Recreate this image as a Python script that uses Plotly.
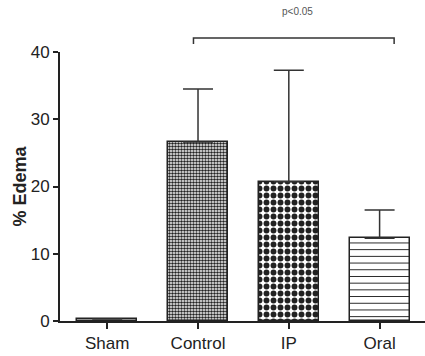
import plotly.graph_objects as go

categories = ["Sham", "Control", "IP", "Oral"]
values = [0.3, 26.6, 20.7, 12.3]
errors_up = [0.0, 7.9, 16.6, 4.2]
patterns = ["", ".", ".", "-"]
pattern_sizes = [6, 3, 7, 6.7]
pattern_solidity = [0.3, 0.55, 0.55, 0.15]

x_idx = list(range(len(categories)))

fig = go.Figure()
fig.add_trace(go.Bar(
    x=x_idx, y=values, width=0.66,
    marker=dict(
        color="white",
        line=dict(color="#222", width=1.5),
        pattern=dict(shape=patterns, size=pattern_sizes, solidity=pattern_solidity,
                     fgcolor="#222", bgcolor="white", fillmode="replace"),
    ),
    error_y=dict(type="data", symmetric=False, array=errors_up,
                 arrayminus=[0] * 4, color="#333", thickness=1.5, width=15,
                 visible=True),
    showlegend=False,
))

fig.add_shape(type="path", xref="x", yref="paper",
              path="M 0.95,1.03 L 0.95,1.052 L 3.16,1.052 L 3.16,1.03",
              line=dict(color="#333", width=1.5))
fig.add_annotation(x=2.1, y=1.15, xref="x", yref="paper", text="p<0.05",
                   yanchor="middle", showarrow=False,
                   font=dict(size=10, color="#555"))
fig.add_annotation(x=-0.112, y=0.5, xref="paper", yref="paper",
                   text="<b>% Edema</b>", textangle=-90, showarrow=False,
                   xanchor="center", yanchor="middle",
                   font=dict(size=18, color="#222"))

fig.update_layout(
    width=425, height=356,
    margin=dict(l=60, r=0, t=52, b=35),
    plot_bgcolor="white", paper_bgcolor="white",
    font=dict(family="Liberation Sans, Arial, sans-serif", color="#222"),
    bargap=0,
)
fig.update_xaxes(range=[-0.52, 3.5], tickvals=x_idx, ticktext=categories,
                 showline=True, linecolor="#222", linewidth=2,
                 ticks="outside", ticklen=6, tickwidth=1.5, tickcolor="#222",
                 tickfont=dict(size=17), showgrid=False, zeroline=False,
                 automargin=False)
fig.update_yaxes(range=[0, 40], tickvals=[0, 10, 20, 30, 40],
                 showline=True, linecolor="#222", linewidth=2,
                 ticks="outside", ticklen=5, tickwidth=1.5, tickcolor="#222",
                 tickfont=dict(size=17), showgrid=False, zeroline=False,
                 automargin=False)

fig.write_html("out.html", config={"displayModeBar": False},
               post_script="document.body.style.margin='0';document.body.style.overflow='hidden';")
